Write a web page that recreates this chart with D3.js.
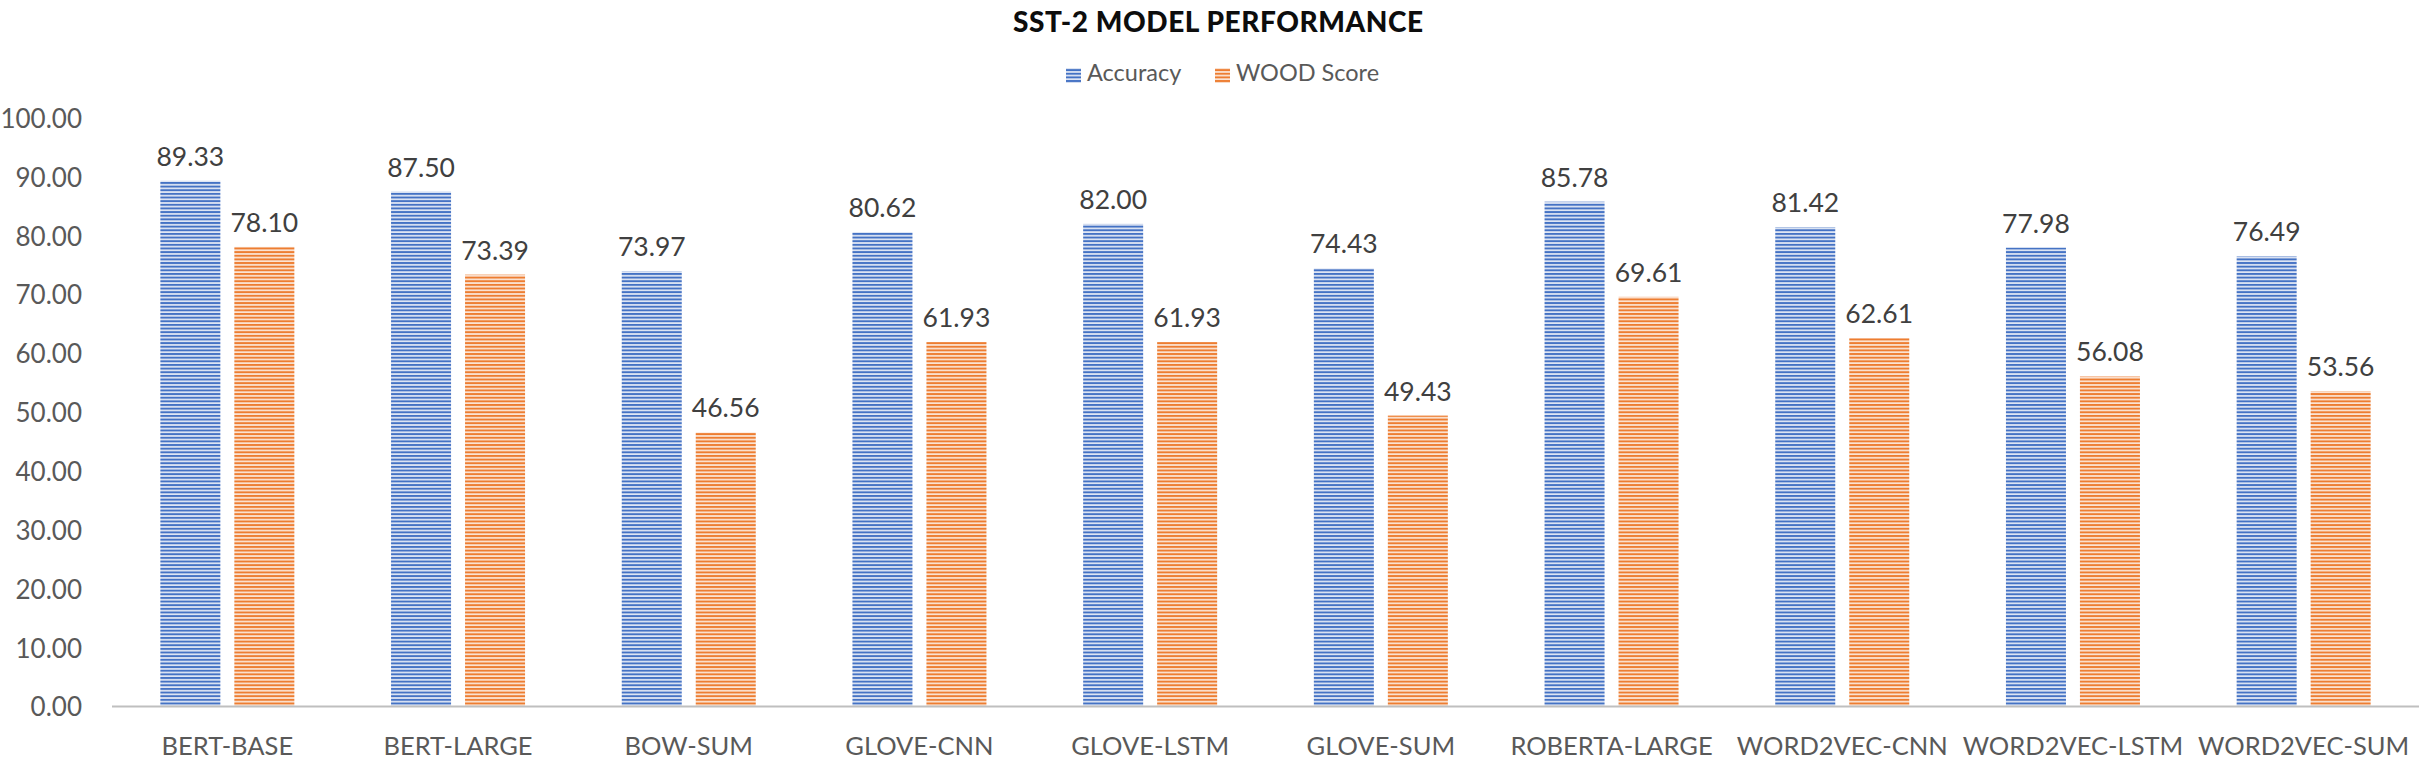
<!DOCTYPE html>
<html>
<head>
<meta charset="utf-8">
<script src="https://cdn.jsdelivr.net/npm/d3@7"></script>
<style>
  html, body { margin: 0; padding: 0; background: #ffffff; }
  svg { display: block; }
  text { font-family: Lato, "Open Sans", "Noto Sans", sans-serif; }
</style>
</head>
<body>
<svg id="chart" width="2436" height="762"></svg>
<script>
const categories = ["BERT-BASE", "BERT-LARGE", "BOW-SUM", "GLOVE-CNN", "GLOVE-LSTM",
  "GLOVE-SUM", "ROBERTA-LARGE", "WORD2VEC-CNN", "WORD2VEC-LSTM", "WORD2VEC-SUM"];
const seriesNames = ["Accuracy", "WOOD Score"];
const accuracy = [89.33, 87.50, 73.97, 80.62, 82.00, 74.43, 85.78, 81.42, 77.98, 76.49];
const woodScore = [78.10, 73.39, 46.56, 61.93, 61.93, 49.43, 69.61, 62.61, 56.08, 53.56];
const yTicks = [0, 10, 20, 30, 40, 50, 60, 70, 80, 90, 100];
const title = "SST-2 MODEL PERFORMANCE";

const seriesValues = [accuracy, woodScore];
const colors = { "Accuracy": ["#4472C4", "#dfe6f4"], "WOOD Score": ["#ED7D31", "#fbe4d4"] };

const svg = d3.select("#chart");
const W = 2436, H = 762;
const plot = { left: 112, right: 2419, top: 118, bottom: 706.5 };

// patterns
const defs = svg.append("defs");
seriesNames.forEach((s, i) => {
  const p = defs.append("pattern")
    .attr("id", "pat" + i)
    .attr("patternUnits", "userSpaceOnUse")
    .attr("width", 8).attr("height", 3.64);
  p.append("rect").attr("width", 8).attr("height", 3.64).attr("fill", colors[s][1]);
  p.append("rect").attr("y", 0).attr("width", 8).attr("height", 1.9).attr("fill", colors[s][0]);
});

const x0 = d3.scaleBand().domain(categories).range([plot.left, plot.right]).paddingInner(0).paddingOuter(0);
const groupW = 134;
const x1 = d3.scaleBand().domain(seriesNames).range([0, groupW]).paddingInner(0.189).paddingOuter(0);
const y = d3.scaleLinear().domain([0, 100]).range([plot.bottom, plot.top]);

// Title
svg.append("text")
  .attr("x", W / 2).attr("y", 32)
  .attr("text-anchor", "middle")
  .attr("font-size", 28).attr("font-weight", 900)
  .attr("fill", "#0d0d0d")
  .attr("textLength", 410).attr("lengthAdjust", "spacing")
  .text(title);

// Legend
const legendItems = [
  { name: seriesNames[0], sx: 1066, tx: 1087 },
  { name: seriesNames[1], sx: 1215, tx: 1236 }
];
legendItems.forEach((it, i) => {
  svg.append("rect").attr("x", it.sx).attr("y", 68).attr("width", 15).attr("height", 15)
    .attr("fill", "url(#pat" + i + ")");
  svg.append("text").attr("x", it.tx).attr("y", 81)
    .attr("font-size", 23.5).attr("fill", "#595959").text(it.name);
});

// Y axis (labels only)
const yAxis = svg.append("g")
  .attr("transform", `translate(${plot.left},0)`)
  .call(d3.axisLeft(y).tickValues(yTicks).tickSize(0).tickPadding(30).tickFormat(d3.format(".2f")));
yAxis.select(".domain").remove();
yAxis.selectAll("text")
  .attr("font-family", "Lato, 'Open Sans', sans-serif")
  .attr("font-size", 26).attr("fill", "#595959").attr("dy", "0.36em");

// Bars
const groups = svg.append("g").selectAll("g")
  .data(categories)
  .join("g")
  .attr("transform", d => `translate(${x0(d) + x0.bandwidth() / 2 - groupW / 2},0)`);

groups.selectAll("rect")
  .data((d, ci) => seriesNames.map((s, si) => ({ s, si, v: seriesValues[si][ci] })))
  .join("rect")
  .attr("x", d => x1(d.s))
  .attr("width", x1.bandwidth())
  .attr("y", d => y(d.v))
  .attr("height", d => y(0) - y(d.v))
  .attr("fill", d => "url(#pat" + d.si + ")");

groups.selectAll("text.lbl")
  .data((d, ci) => seriesNames.map((s, si) => ({ s, si, v: seriesValues[si][ci] })))
  .join("text")
  .attr("class", "lbl")
  .attr("x", d => x1(d.s) + x1.bandwidth() / 2)
  .attr("y", d => y(d.v) - 15)
  .attr("text-anchor", "middle")
  .attr("font-size", 26.5).attr("fill", "#404040")
  .text(d => d3.format(".2f")(d.v));

// X axis
const xAxis = svg.append("g")
  .attr("transform", `translate(0,${plot.bottom})`)
  .call(d3.axisBottom(x0).tickSize(0).tickPadding(0));
xAxis.select(".domain").attr("stroke", "#bfbfbf").attr("stroke-width", 2)
  .attr("d", `M${plot.left},0H${plot.right}`);
xAxis.selectAll("text")
  .attr("font-family", "Lato, 'Open Sans', sans-serif")
  .attr("font-size", 25.5).attr("fill", "#595959")
  .attr("y", 48).attr("dy", 0);
</script>
</body>
</html>
